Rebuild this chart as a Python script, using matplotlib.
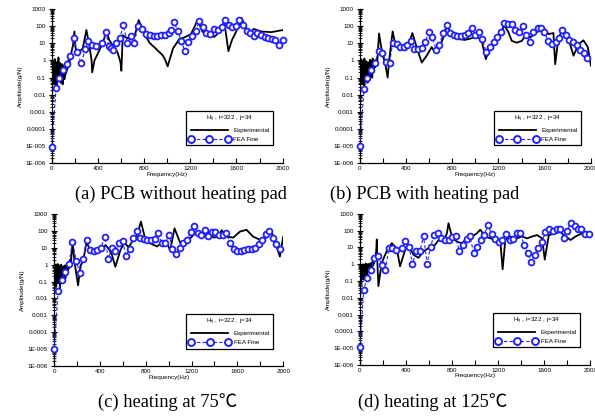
import numpy as np
import matplotlib
matplotlib.use('Agg')
import matplotlib.pyplot as plt
from matplotlib.lines import Line2D
from matplotlib.ticker import LogLocator, NullFormatter

plt.rcParams['font.family'] = ['Liberation Sans', 'DejaVu Sans']

# Frequency grid of the noisy low-frequency part of the measured curves (Hz)
low_freq = [0, 2, 6, 10, 14, 18, 22, 26, 30, 34, 38, 42, 46, 50, 54, 58, 62, 66, 70, 74,
            78, 82, 86, 90, 94, 98, 102, 106, 110, 114, 118, 122, 126, 130, 134, 138, 142, 146, 150]

# (a) PCB without heating pad
exp_a_low = [0.02, 1.0, 0.1, 0.8, 0.05, 0.6, 0.12, 1.2, 0.04, 0.5, 0.15, 0.8, 0.03, 0.4, 0.2,
             1.5, 0.06, 0.5, 0.1, 0.7, 0.05, 0.3, 0.12, 0.6, 0.04, 0.4, 0.2, 0.5, 0.08, 0.6,
             0.15, 0.7, 0.2, 0.8, 0.3, 0.9, 0.4, 1.0, 0.5]
exp_a_freq = [160, 170, 185, 196, 205, 215, 240, 268, 300, 325, 345, 350, 370, 413, 456, 470, 500,
              530, 570, 595, 603, 615, 643, 687, 720, 753, 800, 846, 900, 961, 985, 1004, 1050,
              1105, 1148, 1206, 1264, 1307, 1365, 1408, 1434, 1495, 1530, 1560, 1596, 1645, 1711,
              1749, 1812, 1900, 2000]
exp_a_amp = [1.5, 3, 8, 50, 6, 3, 3.5, 5, 60, 8, 1, 0.2, 1, 4, 20, 50, 15, 7, 3, 0.8, 0.25, 30,
             22, 17, 30, 230, 40, 11, 5, 2, 1, 0.45, 5, 18, 22, 35, 230, 47, 30, 24, 35, 180, 3.5,
             15, 47, 300, 30, 70, 50, 45, 60]
fea_a_freq = [0, 38, 66, 95, 133, 162, 193, 222, 254, 291, 315, 352, 381, 436, 470, 494, 517, 531,
              560, 589, 620, 655, 687, 716, 747, 782, 817, 848, 883, 915, 946, 981, 1013, 1030,
              1059, 1094, 1123, 1152, 1183, 1215, 1247, 1279, 1310, 1339, 1374, 1406, 1437, 1472,
              1504, 1533, 1564, 1596, 1622, 1657, 1688, 1717, 1749, 1781, 1815, 1847, 1876, 1908,
              1937, 1968, 2000]
fea_a_amp = [9e-6, 0.025, 0.1, 0.28, 0.65, 1.8, 20, 3, 0.7, 4.5, 14, 8, 7, 10, 45, 7, 5.5, 4, 10,
             20, 115, 10, 28, 11, 110, 65, 35, 30, 27, 27, 29, 33, 38, 60, 170, 50, 13, 3.7, 12,
             26, 55, 200, 85, 40, 35, 65, 58, 95, 230, 115, 95, 110, 230, 125, 55, 40, 27, 38, 30,
             25, 22, 18, 15, 8.5, 15]

# (b) PCB with heating pad
exp_b_low = [1.5, 0.05, 1.2, 0.1, 0.9, 0.04, 1.0, 0.2, 0.6, 0.03, 1.3, 0.1, 0.5, 0.06, 0.9,
             0.15, 0.4, 0.05, 0.8, 0.2, 0.6, 0.08, 1.1, 0.1, 0.4, 0.25, 0.9, 0.1, 1.3, 0.2,
             0.7, 0.3, 1.0, 0.4, 0.8, 0.5, 1.1, 0.6, 0.9]
exp_b_freq = [165, 194, 217, 240, 254, 283, 303, 347, 419, 454, 491, 535, 578, 621, 650, 679, 723,
              754, 795, 853, 910, 968, 1012, 1055, 1090, 1127, 1170, 1214, 1251, 1286, 1315, 1358,
              1402, 1431, 1474, 1532, 1590, 1633, 1676, 1691, 1720, 1763, 1806, 1850, 1893, 1936,
              1974, 2000]
exp_b_amp = [38, 2.3, 0.75, 0.1, 1.2, 50, 11, 6, 8, 40, 6, 0.75, 1.9, 6, 3, 4.3, 22, 110, 35, 18,
             16, 20, 27, 14, 1.2, 6, 16, 35, 110, 45, 14, 11, 14, 28, 22, 45, 85, 35, 40, 0.6, 22,
             70, 18, 1.9, 9, 15, 6, 0.5]
fea_b_freq = [0, 35, 64, 95, 130, 162, 194, 225, 257, 283, 321, 350, 379, 410, 442, 471, 503, 535,
              566, 595, 624, 662, 688, 720, 751, 783, 812, 844, 876, 908, 939, 971, 1000, 1029,
              1061, 1092, 1127, 1159, 1188, 1220, 1251, 1283, 1315, 1347, 1379, 1410, 1442, 1474,
              1503, 1538, 1566, 1598, 1630, 1662, 1694, 1723, 1754, 1786, 1815, 1847, 1879, 1908,
              1939, 1971]
fea_b_amp = [1e-5, 0.022, 0.1, 0.28, 0.73, 3.6, 2.8, 0.83, 0.7, 11, 9, 6, 6, 8, 14, 5, 5, 5.5, 12,
             45, 25, 4, 8, 38, 115, 43, 32, 27, 27, 30, 40, 80, 33, 45, 18, 3.2, 6, 12, 24, 45,
             160, 130, 140, 63, 45, 100, 30, 12, 45, 75, 80, 45, 14, 9, 12, 22, 57, 32, 16, 12, 8,
             4.2, 2.7, 1.4]

# (c) heating at 75C
exp_c_low = [1.2, 0.06, 0.9, 0.1, 1.0, 0.05, 0.7, 0.2, 1.1, 0.08, 0.5, 0.15, 0.9, 0.04, 0.6,
             0.2, 1.0, 0.1, 0.5, 0.25, 0.8, 0.1, 0.6, 0.3, 0.9, 0.15, 0.7, 0.3, 1.0, 0.4,
             0.8, 0.5, 1.2, 0.6, 1.5, 0.8, 2.0, 1.0, 2.5]
exp_c_freq = [160, 186, 209, 229, 258, 282, 316, 403, 447, 476, 505, 534, 578, 612, 650, 688, 723,
              758, 790, 839, 897, 955, 984, 1013, 1051, 1086, 1115, 1158, 1202, 1245, 1289, 1332,
              1390, 1434, 1463, 1506, 1564, 1622, 1680, 1738, 1796, 1855, 1898, 1927, 1971, 2000]
exp_c_amp = [18, 0.6, 0.06, 0.8, 2.4, 22, 7, 6, 14, 9, 3.7, 0.75, 7, 20, 11, 27, 55, 350, 45, 18,
             12, 22, 20, 7, 140, 35, 11, 22, 45, 90, 40, 90, 40, 45, 110, 45, 40, 90, 115, 45, 30,
             40, 90, 23, 3, 45]
fea_c_freq = [0, 35, 67, 99, 128, 160, 194, 224, 255, 284, 316, 348, 377, 409, 441, 473, 502, 534,
              566, 598, 627, 659, 688, 720, 752, 784, 813, 845, 877, 909, 940, 972, 1001, 1033,
              1065, 1097, 1129, 1161, 1193, 1222, 1254, 1286, 1318, 1347, 1379, 1408, 1440, 1472,
              1504, 1536, 1567, 1596, 1628, 1660, 1692, 1724, 1756, 1785, 1817, 1849, 1878, 1910,
              1939, 1971]
fea_c_amp = [1e-5, 0.027, 0.12, 0.35, 1.05, 22, 1.6, 0.33, 2.3, 28, 7, 6, 7, 10, 45, 2.3, 10, 6,
             19, 25, 3.3, 9, 40, 100, 38, 32, 28, 28, 35, 70, 18, 18, 60, 8, 4, 10, 18, 30, 80,
             200, 75, 60, 115, 50, 80, 80, 60, 60, 75, 18, 9, 6.5, 6, 7.5, 8.5, 9, 10, 16, 30, 65,
             95, 40, 17, 8.5]

# (d) heating at 125C
exp_d_low = [0.05, 0.8, 0.1, 0.9, 0.15, 0.7, 0.2, 1.0, 0.12, 0.8, 0.25, 0.9, 0.2, 1.1, 0.3,
             0.8, 0.25, 1.0, 0.4, 0.9, 0.35, 1.1, 0.5, 1.0, 0.5, 1.2, 0.7, 1.3, 0.8, 1.5,
             1.0, 2.0, 1.5, 3.0, 2.5, 4.0, 8.0, 30, 2.0]
exp_d_freq = [160, 189, 232, 276, 319, 348, 392, 421, 464, 508, 552, 595, 639, 682, 726, 755, 769,
              798, 842, 885, 929, 972, 1016, 1045, 1088, 1132, 1176, 1219, 1239, 1262, 1306, 1364,
              1408, 1451, 1495, 1538, 1582, 1605, 1640, 1698, 1741, 1785, 1829, 1872, 1930, 2000]
exp_d_amp = [0.05, 1.2, 6, 18, 9, 0.75, 7, 14, 3.7, 2.4, 6, 9, 11, 27, 22, 70, 280, 45, 22, 18, 35,
             45, 70, 115, 45, 35, 28, 22, 0.5, 28, 45, 35, 45, 35, 45, 55, 35, 1.9, 55, 70, 85, 45,
             28, 45, 70, 85]
fea_d_freq = [0, 32, 64, 96, 125, 157, 189, 221, 250, 282, 313, 363, 395, 427, 456, 488, 520, 552,
              583, 613, 644, 676, 708, 740, 769, 801, 833, 862, 894, 926, 955, 987, 1019, 1048,
              1080, 1112, 1144, 1173, 1205, 1237, 1269, 1300, 1329, 1361, 1393, 1425, 1457, 1486,
              1518, 1550, 1582, 1611, 1643, 1675, 1707, 1739, 1771, 1800, 1832, 1864, 1895, 1924,
              1956, 1988]
fea_d_amp = [1.1e-5, 0.031, 0.16, 0.48, 2.3, 3, 0.87, 0.44, 8.7, 9, 7, 9, 25, 11, 1, 5.8, 5.8, 48,
             1.1, 11, 55, 70, 35, 28, 28, 40, 46, 6, 15, 32, 50, 4.6, 11, 27, 58, 210, 60, 34, 20,
             28, 60, 27, 32, 76, 70, 15, 4.4, 1.4, 3.7, 9, 22, 85, 120, 95, 135, 125, 35, 100, 300,
             180, 120, 120, 60, 65]

captions = ['(a) PCB without heating pad', '(b) PCB with heating pad',
            '(c) heating at 75\u2103', '(d) heating at 125\u2103']
ytick_vals = [1e-6, 1e-5, 1e-4, 1e-3, 1e-2, 1e-1, 1, 10, 100, 1000]
ytick_labels = ['1E-006', '1E-005', '0.0001', '0.001', '0.01', '0.1', '1', '10', '100', '1000']
xtick_vals = [0, 400, 800, 1200, 1600, 2000]

panels = [
    (low_freq + exp_a_freq, exp_a_low + exp_a_amp, fea_a_freq, fea_a_amp),
    (low_freq + exp_b_freq, exp_b_low + exp_b_amp, fea_b_freq, fea_b_amp),
    (low_freq + exp_c_freq, exp_c_low + exp_c_amp, fea_c_freq, fea_c_amp),
    (low_freq + exp_d_freq, exp_d_low + exp_d_amp, fea_d_freq, fea_d_amp),
]

# axes boxes [left, bottom, width, height] in figure fraction
boxes = [[0.087, 0.609, 0.388, 0.369],
         [0.605, 0.609, 0.388, 0.369],
         [0.091, 0.122, 0.385, 0.365],
         [0.605, 0.125, 0.387, 0.362]]
caption_pos = [(0.304, 0.535), (0.714, 0.533), (0.281, 0.036), (0.728, 0.036)]

blue = '#1f1fff'
fig = plt.figure(figsize=(5.95, 4.17), dpi=100)

for i in range(4):
    ef, ea, ff, fa = panels[i]
    ax = fig.add_axes(boxes[i])
    ax.plot(ef, ea, color='black', linewidth=1.3)
    ax.plot(ff, fa, color=blue, linestyle='--', dashes=(3, 2), linewidth=0.8,
            marker='o', markersize=4.2, markerfacecolor='white', markeredgecolor=blue,
            markeredgewidth=1.3, clip_on=False, zorder=3)
    ax.set_yscale('log')
    ax.set_xlim(0, 2000)
    ax.set_ylim(1e-6, 1000)
    ax.set_yticks(ytick_vals)
    ax.set_yticklabels(ytick_labels)
    ax.yaxis.set_minor_locator(LogLocator(base=10, subs=np.arange(2, 10), numticks=20))
    ax.yaxis.set_minor_formatter(NullFormatter())
    ax.set_xticks(xtick_vals)
    ax.set_xticks([200, 600, 1000, 1400, 1800], minor=True)
    ax.spines['top'].set_visible(False)
    ax.spines['right'].set_visible(False)
    ax.spines['left'].set_linewidth(0.9)
    ax.spines['bottom'].set_linewidth(0.9)
    ax.tick_params(axis='y', which='major', direction='inout', length=5, width=0.8,
                   labelsize=4.5, pad=2)
    ax.tick_params(axis='y', which='minor', direction='inout', length=3.5, width=0.6)
    ax.tick_params(axis='x', which='both', direction='in', length=3.5, width=0.8,
                   labelsize=4.5, pad=2)
    ax.set_xlabel('Frequency(Hz)', fontsize=4.5, labelpad=0.5)
    ax.set_ylabel('Amplitude(g/N)', fontsize=4.5, labelpad=2)

    handles = [Line2D([], [], color='black', linewidth=1.3),
               Line2D([], [], color=blue, linestyle='--', dashes=(3, 2), linewidth=0.8,
                      marker='o', markersize=5, markerfacecolor='white',
                      markeredgecolor=blue, markeredgewidth=1.4)]
    leg = ax.legend(handles, ['Experimental', 'FEA Fine'], title=r'H$_{\rm ij}$ , i=322 , j=34',
                    loc='lower right', bbox_to_anchor=(0.97, 0.095), fontsize=4.5,
                    title_fontsize=4.5, numpoints=3, handlelength=6.5, fancybox=False,
                    framealpha=1, edgecolor='black', borderpad=0.5, labelspacing=0.6,
                    handletextpad=0.6)
    leg.get_frame().set_linewidth(0.9)

    fig.text(caption_pos[i][0], caption_pos[i][1], captions[i], ha='center', va='center',
             fontsize=13.3, family=['Liberation Serif', 'Noto Sans CJK SC'])

plt.savefig('out.png', dpi=100)
